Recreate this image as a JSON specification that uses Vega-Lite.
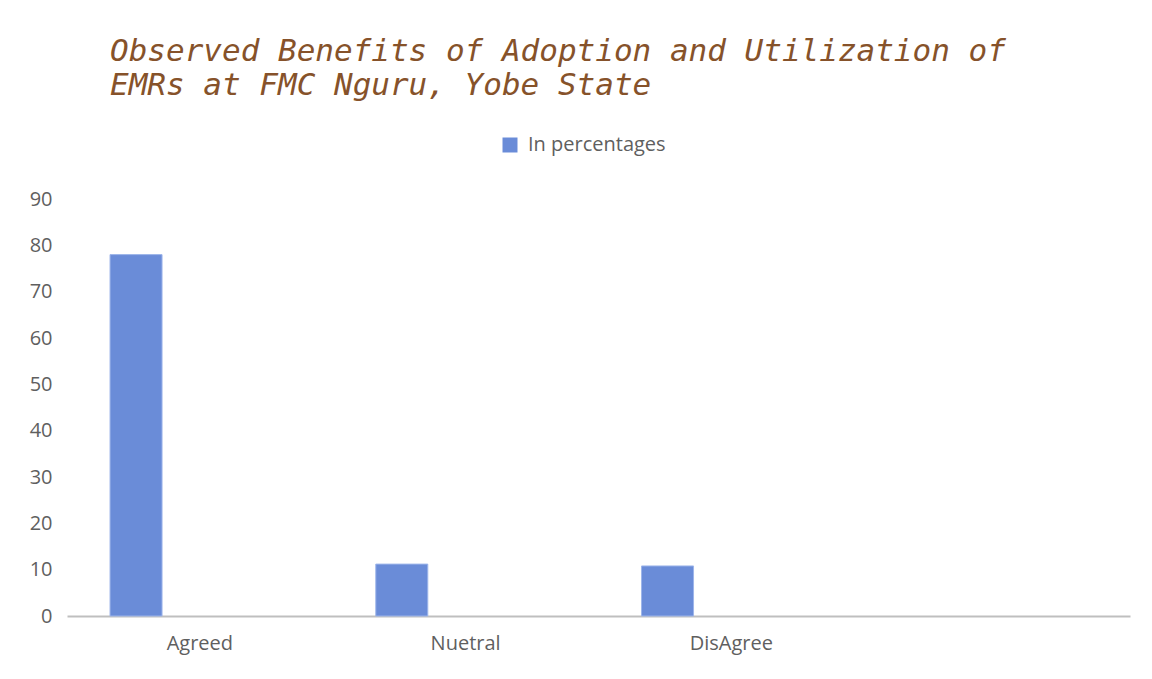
{
  "$schema": "https://vega.github.io/schema/vega-lite/v6.json",
  "autosize": {"type": "none"},
  "width": 1063,
  "height": 417,
  "padding": {"left": 67, "top": 199, "right": 22, "bottom": 63},
  "background": "white",
  "config": {
    "view": {"stroke": null},
    "font": "Open Sans"
  },
  "title": {
    "text": ["Observed Benefits of Adoption and Utilization of", "EMRs at FMC Nguru, Yobe State"],
    "anchor": "start",
    "frame": "group",
    "dx": 43,
    "offset": 33,
    "font": "DejaVu Sans Mono",
    "fontStyle": "italic",
    "fontWeight": "normal",
    "fontSize": 31,
    "lineHeight": 34,
    "color": "#86522a"
  },
  "data": {
    "values": [
      {"category": "Agreed", "series": "In percentages", "value": 78},
      {"category": "Nuetral", "series": "In percentages", "value": 11.2},
      {"category": "DisAgree", "series": "In percentages", "value": 10.8}
    ]
  },
  "mark": {"type": "bar", "stroke": "#9db5ea", "strokeWidth": 1},
  "encoding": {
    "x": {
      "field": "category",
      "type": "nominal",
      "sort": null,
      "scale": {"domain": ["Agreed", "Nuetral", "DisAgree", " "], "paddingInner": 0, "paddingOuter": 0},
      "axis": {
        "title": null,
        "labelAngle": 0,
        "ticks": false,
        "domainColor": "#bfbfbf",
        "domainWidth": 2,
        "labelFont": "Open Sans",
        "labelFontSize": 20,
        "labelColor": "#5f5f5f",
        "labelPadding": 17
      }
    },
    "xOffset": {
      "field": "series",
      "type": "nominal",
      "scale": {"domain": ["In percentages", "(empty)"], "paddingInner": 0.27, "paddingOuter": 1, "align": 0.302}
    },
    "y": {
      "field": "value",
      "type": "quantitative",
      "scale": {"domain": [0, 90]},
      "axis": {
        "title": null,
        "values": [0, 10, 20, 30, 40, 50, 60, 70, 80, 90],
        "grid": false,
        "domain": false,
        "ticks": false,
        "labelFont": "Open Sans",
        "labelFontSize": 20,
        "labelColor": "#5f5f5f",
        "labelPadding": 15
      }
    },
    "color": {
      "field": "series",
      "type": "nominal",
      "scale": {"domain": ["In percentages"], "range": ["#6a8cd8"]},
      "legend": {
        "title": null,
        "orient": "none",
        "legendX": 433,
        "legendY": -64,
        "direction": "horizontal",
        "padding": 0,
        "symbolType": "square",
        "symbolSize": 225,
        "symbolStrokeWidth": 0,
        "labelFont": "Open Sans",
        "labelFontSize": 20,
        "labelColor": "#5f5f5f",
        "labelOffset": 8
      }
    }
  }
}
